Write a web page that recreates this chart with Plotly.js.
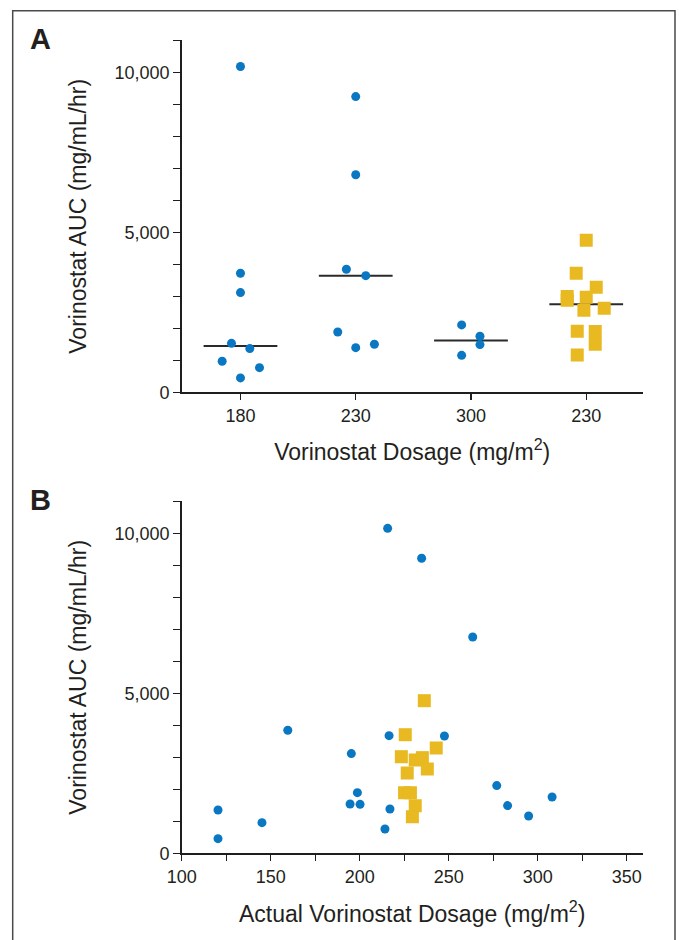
<!DOCTYPE html>
<html>
<head>
<meta charset="utf-8">
<script src="https://cdn.plot.ly/plotly-3.0.1.min.js"></script>
<style>
  html, body { margin: 0; padding: 0; background: #ffffff; }
  #chart { width: 679px; height: 940px; }
</style>
</head>
<body>
<div id="chart"></div>
<script>
// ---------- Data ----------
// Panel A: AUC by assigned dosage group (category index, jitter offset in category units)
const groupLabelsA = ['180', '230', '300', '230'];

const auc180 = [10180, 3720, 3115, 1530, 1365, 970, 770, 450];
const jit180 = [0, 0, 0, -0.078, 0.081, -0.159, 0.165, 0];

const auc230 = [9240, 6800, 3845, 3646, 1885, 1395, 1500];
const jit230 = [0, 0, -0.081, 0.087, -0.156, 0, 0.162];

const auc300 = [2105, 1750, 1490, 1155];
const jit300 = [-0.081, 0.078, 0.078, -0.081];

const auc230b = [4750, 3720, 3280, 2995, 2878, 2969, 2563, 2625, 1906, 1900, 1503, 1166];
const jit230b = [0, -0.087, 0.087, -0.165, -0.165, 0, -0.02, 0.156, -0.078, 0.078, 0.078, -0.078];

// Panel B: AUC vs actual dosage
const doseBlue = [215.7, 234.8, 263.5, 159.6, 216.5, 247.6, 195.3, 198.7, 194.6, 200.2, 217.0, 214.2, 120.4, 120.4, 145.1, 277.0, 283.1, 294.9, 308.1];
const aucBlue  = [10156, 9219, 6760, 3844, 3677, 3667, 3115, 1896, 1542, 1531, 1385, 760, 1354, 458, 958, 2115, 1490, 1167, 1760];

const doseYellow = [236.3, 225.6, 243.0, 223.4, 231.2, 235.2, 238.0, 226.7, 225.2, 228.5, 231.2, 229.6];
const aucYellow  = [4769, 3706, 3291, 3019, 2916, 2989, 2634, 2509, 1894, 1894, 1488, 1144];

// Axis ticks
const yTickVals = [0, 5000, 10000];
const yTickText = ['0', '5,000', '10,000'];
const yMinorVals = [1000, 2000, 3000, 4000, 6000, 7000, 8000, 9000, 11000];
const xTickValsB = [100, 150, 200, 250, 300, 350];
const xTickTextB = ['100', '150', '200', '250', '300', '350'];
const xMinorValsB = [125, 175, 225, 275, 325];

// ---------- Styles ----------
const BLUE = '#0a77c2';
const YELLOW = '#e8b920';
const INK = '#231f20';
const FONT = 'Liberation Sans, Arial, Helvetica, sans-serif';

function median(a) {
  const s = a.slice().sort((p, q) => p - q);
  const m = Math.floor(s.length / 2);
  return s.length % 2 ? s[m] : (s[m - 1] + s[m]) / 2;
}

const groupsA = [
  { vals: auc180, jit: jit180, color: BLUE, symbol: 'circle', size: 9 },
  { vals: auc230, jit: jit230, color: BLUE, symbol: 'circle', size: 9 },
  { vals: auc300, jit: jit300, color: BLUE, symbol: 'circle', size: 9 },
  { vals: auc230b, jit: jit230b, color: YELLOW, symbol: 'square', size: 13 }
];

const traces = [];
const halfW = 0.32;
groupsA.forEach((g, i) => {
  const med = median(g.vals);
  traces.push({
    type: 'scatter', mode: 'lines', xaxis: 'x', yaxis: 'y',
    x: [i - halfW, i + halfW], y: [med, med],
    line: { color: '#2a2a2a', width: 2 }, hoverinfo: 'skip', showlegend: false
  });
});
groupsA.forEach((g, i) => {
  traces.push({
    type: 'scatter', mode: 'markers', xaxis: 'x', yaxis: 'y',
    x: g.vals.map((v, k) => i + g.jit[k]), y: g.vals,
    marker: { color: g.color, symbol: g.symbol, size: g.size, line: { width: 0 } },
    showlegend: false
  });
});
traces.push({
  type: 'scatter', mode: 'markers', xaxis: 'x2', yaxis: 'y2',
  x: doseBlue, y: aucBlue,
  marker: { color: BLUE, symbol: 'circle', size: 9, line: { width: 0 } }, showlegend: false
});
traces.push({
  type: 'scatter', mode: 'markers', xaxis: 'x2', yaxis: 'y2',
  x: doseYellow, y: aucYellow,
  marker: { color: YELLOW, symbol: 'square', size: 13, line: { width: 0 } }, showlegend: false
});

const W = 679, H = 940;
const xDom = [181.7 / W, 642.7 / W];
const yDomA = [1 - 392.3 / H, 1 - 40.3 / H];
const yDomB = [1 - 853.3 / H, 1 - 501.3 / H];

const axisCommon = {
  showgrid: false, zeroline: false, showline: true,
  linecolor: '#1e1e1e', linewidth: 1.6,
  ticks: 'outside', tickcolor: '#1e1e1e', tickwidth: 1.3,
  tickfont: { family: FONT, size: 18, color: INK },
  fixedrange: true
};

const titleFont = { family: FONT, size: 23, color: INK };

const yMinor = { tickvals: yMinorVals, ticks: 'outside', ticklen: 7, tickcolor: '#1e1e1e', tickwidth: 1.3, showgrid: false };

const layout = {
  width: W, height: H,
  margin: { l: 0, r: 0, t: 0, b: 0, pad: 0 },
  paper_bgcolor: '#ffffff', plot_bgcolor: 'rgba(0,0,0,0)',
  font: { family: FONT, color: INK },
  xaxis: Object.assign({}, axisCommon, {
    domain: xDom, anchor: 'y', range: [-0.51, 3.49],
    tickvals: [0, 1, 2, 3], ticktext: groupLabelsA, ticklen: 6,
    title: { text: 'Vorinostat Dosage (mg/m<sup>2</sup>)', font: titleFont, standoff: 19 }
  }),
  yaxis: Object.assign({}, axisCommon, {
    domain: yDomA, anchor: 'x', range: [0, 11000],
    tickvals: yTickVals, ticktext: yTickText, ticklen: 7, minor: yMinor,
    title: { text: 'Vorinostat AUC (mg/mL/hr)', font: titleFont, standoff: 21 }
  }),
  xaxis2: Object.assign({}, axisCommon, {
    domain: xDom, anchor: 'y2', range: [100, 359],
    tickvals: xTickValsB, ticktext: xTickTextB, ticklen: 6,
    minor: { tickvals: xMinorValsB, ticks: 'outside', ticklen: 6, tickcolor: '#1e1e1e', tickwidth: 1.3, showgrid: false },
    title: { text: 'Actual Vorinostat Dosage (mg/m<sup>2</sup>)', font: titleFont, standoff: 20 }
  }),
  yaxis2: Object.assign({}, axisCommon, {
    domain: yDomB, anchor: 'x2', range: [0, 11000],
    tickvals: yTickVals, ticktext: yTickText, ticklen: 7, minor: yMinor,
    title: { text: 'Vorinostat AUC (mg/mL/hr)', font: titleFont, standoff: 21 }
  }),
  annotations: [
    { text: '<b>A</b>', xref: 'paper', yref: 'paper', x: 28 / W, y: 1 - 39 / H,
      xanchor: 'left', yanchor: 'middle', showarrow: false,
      font: { family: FONT, size: 29, color: INK } },
    { text: '<b>B</b>', xref: 'paper', yref: 'paper', x: 28 / W, y: 1 - 500 / H,
      xanchor: 'left', yanchor: 'middle', showarrow: false,
      font: { family: FONT, size: 29, color: INK } }
  ],
  shapes: [
    { type: 'rect', xref: 'paper', yref: 'paper',
      x0: 12.7 / W, x1: 675 / W, y0: -0.02, y1: 1 - 10.7 / H,
      line: { color: '#4a4a4a', width: 1.5 }, fillcolor: 'rgba(0,0,0,0)', layer: 'below' }
  ]
};

Plotly.newPlot('chart', traces, layout, { displayModeBar: false, staticPlot: true });
</script>
</body>
</html>
